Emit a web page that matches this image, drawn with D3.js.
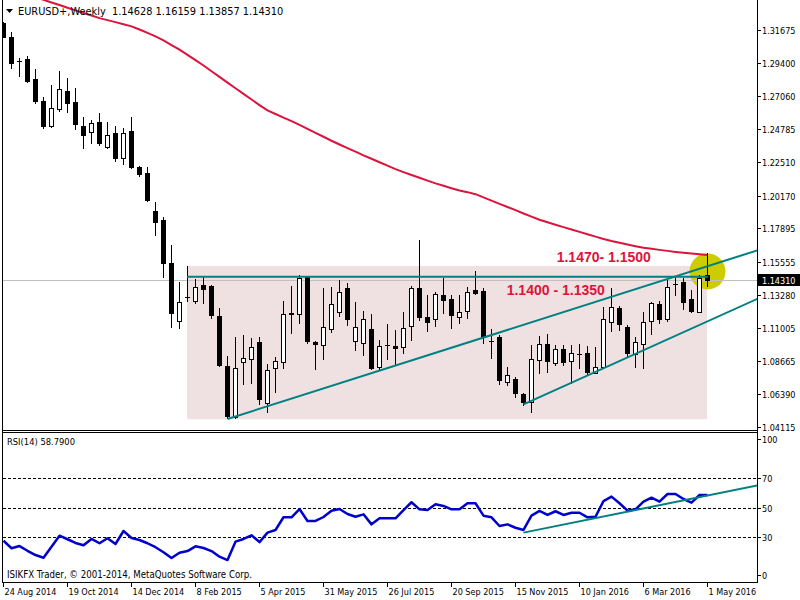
<!DOCTYPE html>
<html><head><meta charset="utf-8">
<script src="https://cdn.jsdelivr.net/npm/d3@7"></script>
<style>
html,body{margin:0;padding:0;background:#fff;}
svg{display:block;}
text{font-family:"DejaVu Sans Condensed","DejaVu Sans",sans-serif;font-size:9px;fill:#000;}
</style></head><body><svg id="c" width="800" height="600"></svg>
<script>
// ---------- DATA ----------
const symbolTitle = "EURUSD+,Weekly";
const lastOHLC = ["1.14628", "1.16159", "1.13857", "1.14310"];
const opens = [1.3214,1.3117,1.2950,1.2964,1.2827,1.2676,1.2501,1.2621,1.2746,1.2667,
1.2501,1.2461,1.2528,1.2357,1.2452,1.2276,1.2466,1.2214,1.2176,1.1910,
1.1848,1.1547,1.1148,1.1310,1.1287,1.1394,1.1389,1.1181,1.0833,1.0481,
1.0859,1.0880,1.0998,1.0578,1.0817,1.0859,1.1192,1.1192,1.1449,1.0998,
1.0977,1.1088,1.1206,1.1373,1.1007,1.0991,1.1088,1.0828,1.0977,1.0972,
1.0963,1.1113,1.1373,1.1172,1.1158,1.1326,1.1297,1.1176,1.1215,1.1361,
1.1354,1.1008,1.1037,1.0724,1.0743,1.0639,1.0585,1.0875,1.0984,1.0852,
1.0949,1.0868,1.0917,1.0921,1.0787,1.0828,1.1137,1.1234,1.1106,1.0917,
1.0984,1.1146,1.1264,1.1158,1.1403,1.1415,1.1297,1.1210,1.14628];
const highs = [1.3222,1.3151,1.2975,1.2987,1.2897,1.2704,1.2785,1.2883,1.2832,1.2763,
1.2565,1.2542,1.2589,1.2528,1.2501,1.2489,1.2565,1.2223,1.2218,1.1975,
1.1870,1.1674,1.1419,1.1530,1.1436,1.1454,1.1394,1.1234,1.0903,1.1037,
1.1049,1.1026,1.1033,1.0847,1.0898,1.1285,1.1389,1.1465,1.1458,1.1007,
1.1373,1.1380,1.1431,1.1408,1.1276,1.1215,1.1192,1.1014,1.1123,1.1083,
1.1210,1.1389,1.1712,1.1326,1.1349,1.1447,1.1326,1.1326,1.1384,1.1495,
1.1377,1.1088,1.1049,1.0828,1.0756,1.0644,1.0979,1.1042,1.1053,1.0979,
1.0979,1.0979,1.0984,1.0972,1.0967,1.1245,1.1373,1.1250,1.1118,1.1037,
1.1210,1.1280,1.1287,1.1431,1.1454,1.1447,1.1361,1.1465,1.16159];
const lows = [1.3118,1.2906,1.2850,1.2806,1.2662,1.2489,1.2496,1.2607,1.2600,1.2478,
1.2350,1.2385,1.2367,1.2350,1.2260,1.2237,1.2211,1.2155,1.1980,1.1743,
1.1454,1.1106,1.1095,1.1285,1.1269,1.1273,1.1169,1.0833,1.0470,1.0474,
1.0708,1.0713,1.0567,1.0516,1.0655,1.0817,1.1060,1.1130,1.0995,1.0814,
1.0884,1.1072,1.1183,1.1118,1.0944,1.0910,1.0815,1.0805,1.0884,1.0840,
1.0921,1.1014,1.1153,1.1078,1.1113,1.1204,1.1099,1.1130,1.1165,1.1331,
1.0991,1.0892,1.0708,1.0701,1.0620,1.0562,1.0516,1.0787,1.0794,1.0840,
1.0840,1.0713,1.0821,1.0771,1.0787,1.0817,1.1078,1.1083,1.0903,1.0824,
1.0817,1.1056,1.1134,1.1148,1.1326,1.1229,1.1210,1.1210,1.13857];
const closes = [1.3121,1.2940,1.2952,1.2815,1.2676,1.2501,1.2624,1.2756,1.2658,1.2517,
1.2440,1.2524,1.2385,1.2436,1.2280,1.2452,1.2218,1.2169,1.1986,1.1832,
1.1551,1.1199,1.1280,1.1313,1.1382,1.1370,1.1190,1.0840,1.0486,1.0817,
1.0887,1.0963,1.0602,1.0805,1.0870,1.1192,1.1198,1.1443,1.1009,1.0984,
1.1106,1.1262,1.1345,1.1160,1.1106,1.1158,1.0821,1.0974,1.0979,1.0960,
1.1099,1.1377,1.1176,1.1141,1.1331,1.1292,1.1188,1.1206,1.1349,1.1342,
1.1035,1.1005,1.0734,1.0769,1.0644,1.0585,1.0880,1.0984,1.0868,1.0949,
1.0863,1.0921,1.0919,1.0794,1.0824,1.1158,1.1245,1.1123,1.0926,1.0998,
1.1141,1.1269,1.1158,1.1384,1.1405,1.1276,1.1217,1.1443,1.14310];
const maValues = [null,null,null,null,1.3395,1.3377,1.3359,1.3341,1.3322,1.3304,
1.3286,1.3268,1.3250,1.3236,1.3222,1.3207,1.3193,1.3171,1.3147,1.3123,
1.3096,1.3063,1.3031,1.2995,1.2958,1.2921,1.2881,1.2842,1.2802,1.2763,
1.2724,1.2685,1.2646,1.2609,1.2584,1.2559,1.2534,1.2509,1.2481,1.2453,
1.2426,1.2398,1.2372,1.2347,1.2322,1.2297,1.2273,1.2249,1.2225,1.2201,
1.2180,1.2160,1.2141,1.2121,1.2102,1.2085,1.2068,1.2052,1.2041,1.2027,
1.2005,1.1982,1.1960,1.1938,1.1916,1.1893,1.1871,1.1849,1.1832,1.1815,
1.1798,1.1782,1.1765,1.1748,1.1732,1.1716,1.1701,1.1689,1.1677,1.1665,
1.1654,1.1647,1.1640,1.1633,1.1626,1.1620,1.1615,1.1609,1.1604];
const rsiValues = [27.7,22.6,24.1,20.9,18.0,16.2,23.7,31.1,28.7,26.2,
24.6,28.9,26.0,29.4,25.5,34.3,29.6,28.2,26.0,23.3,
19.9,16.0,19.6,20.7,23.9,22.8,20.7,16.9,14.6,27.1,
28.9,31.4,26.8,33.2,35.0,43.6,43.6,49.2,41.1,41.1,
43.8,48.1,49.2,45.8,44.0,45.6,38.8,42.9,42.9,42.9,
48.5,53.8,49.0,48.5,52.4,51.3,49.0,49.0,53.1,53.1,
44.7,43.6,37.7,38.8,36.5,35.0,44.7,47.9,45.2,47.7,
45.2,46.7,46.7,43.6,44.0,54.6,57.6,53.1,48.1,49.0,
54.2,56.9,54.2,59.4,59.4,56.0,53.5,58.7,58.79];
const rsiLabel = "RSI(14) 58.7900";
const copyright = "ISIKFX Trader, \u00A9 2001-2014, MetaQuotes Software Corp.";
const priceTicks = [1.31675,1.29400,1.27060,1.24785,1.22510,1.20170,1.17895,1.15555,1.13280,1.11005,1.08665,1.06390,1.04115];
const rsiTicks = [100,70,50,30,0];
const rsiLevels = [70,50,30];
const dateTickIdx = [0,8,16,24,32,40,48,56,64,72,80,88];
const dateTickLabels = ["24 Aug 2014","19 Oct 2014","14 Dec 2014","8 Feb 2015","5 Apr 2015","31 May 2015","26 Jul 2015","20 Sep 2015","15 Nov 2015","10 Jan 2016","6 Mar 2016","1 May 2016"];
const currentPrice = 1.14310;
// drawn objects (bar index, price)
const zoneBars = [23, 88];
const zonePrices = [1.0463, 1.1528];
const resistanceLevel = 1.1454;
const trend1 = [[28, 1.0465],[96, 1.1668]];
const trend2 = [[65, 1.0566],[96, 1.1344]];
const rsiTrend = [[65, 33.2],[96, 67.1]];
const circleAt = [88, 1.1490];
const annotations = [
  {text:"1.1470- 1.1500", bar:69.15, price:1.1558},
  {text:"1.1400 - 1.1350", bar:62.9, price:1.1326}
];

// ---------- CHART ----------
const svg = d3.select("#c");
const nBars = opens.length;
const x = d3.scaleLinear().domain([0, 88]).range([3.5, 707.5]);
const y = d3.scaleLinear().domain([1.04115, 1.31675]).range([426.7, 30]);
const yr = d3.scaleLinear().domain([0, 100]).range([581.6, 434.1]);
const LEFT = 2.5, RIGHT = 757.5, MAIN_BOTTOM = 430.5, RSI_TOP = 432.5, RSI_BOTTOM = 582.5;
const snap = v => Math.round(v) + 0.5;
const teal = "#008080", crimson = "#DC143C";

const defs = svg.append("defs");
defs.append("clipPath").attr("id","clipMain").append("rect").attr("x",3).attr("y",0).attr("width",754).attr("height",430);
defs.append("clipPath").attr("id","clipRsi").append("rect").attr("x",3).attr("y",433).attr("width",754).attr("height",149);

const gm = svg.append("g").attr("clip-path","url(#clipMain)");

// zone rectangle
gm.append("rect")
  .attr("x", x(zoneBars[0]) - 0.5).attr("y", y(zonePrices[1]))
  .attr("width", x(zoneBars[1]) - x(zoneBars[0]))
  .attr("height", y(zonePrices[0]) - y(zonePrices[1]))
  .attr("fill", "#EFE1E1");

// highlight circle
gm.append("circle").attr("cx", x(circleAt[0])).attr("cy", y(circleAt[1])).attr("r", 18).attr("fill", "#CCCC00");

// current price line
gm.append("line").attr("x1",3).attr("x2",757).attr("y1",snap(y(currentPrice))).attr("y2",snap(y(currentPrice)))
  .attr("stroke","#C0C0C0").attr("stroke-width",1).attr("shape-rendering","crispEdges");

// header
svg.append("path").attr("d","M6,9 L13,9 L9.5,13 Z").attr("fill","#000");
svg.append("text").attr("x",18).attr("y",14.5).attr("xml:space","preserve")
  .style("font-size","10.9px")
  .text(symbolTitle + "  " + lastOHLC.join(" "));

// candles
const bars = d3.range(nBars).map(i => ({i, o:opens[i], h:highs[i], l:lows[i], c:closes[i]}));
const cg = gm.append("g").attr("shape-rendering","crispEdges");
cg.selectAll("line.wick").data(bars).join("line").attr("class","wick")
  .attr("x1", d => x(d.i)).attr("x2", d => x(d.i))
  .attr("y1", d => Math.round(y(d.h))).attr("y2", d => Math.round(y(d.l)) + 1)
  .attr("stroke","#000").attr("stroke-width",1);
bars.forEach(d => {
  const yo = Math.round(y(d.o)), yc = Math.round(y(d.c));
  const top = Math.min(yo, yc), bot = Math.max(yo, yc);
  const cx = x(d.i);
  if (bot - top < 1) {
    cg.append("line").attr("x1", cx - 2.5).attr("x2", cx + 2.5).attr("y1", top + 0.5).attr("y2", top + 0.5)
      .attr("stroke","#000").attr("stroke-width",1);
  } else {
    cg.append("rect").attr("x", cx - 2).attr("y", top + 0.5).attr("width", 4).attr("height", bot - top)
      .attr("fill", d.c >= d.o ? "#fff" : "#000").attr("stroke","#000").attr("stroke-width",1);
  }
});

// moving average
gm.append("path").datum(maValues.map((v,i)=>[i,v]))
  .attr("d", d3.line().defined(d => d[1] !== null).x(d => x(d[0])).y(d => y(d[1])))
  .attr("fill","none").attr("stroke",crimson).attr("stroke-width",2);

// resistance line
gm.append("line").attr("x1", x(zoneBars[0]) - 0.5).attr("x2", x(zoneBars[1]) + 0.5)
  .attr("y1", y(resistanceLevel)).attr("y2", y(resistanceLevel))
  .attr("stroke", teal).attr("stroke-width", 2);
// trendlines
[trend1, trend2].forEach(t => {
  gm.append("line").attr("x1", x(t[0][0])).attr("y1", y(t[0][1])).attr("x2", x(t[1][0])).attr("y2", y(t[1][1]))
    .attr("stroke", teal).attr("stroke-width", 2);
});

// annotations
annotations.forEach(a => {
  gm.append("text").attr("x", x(a.bar)).attr("y", y(a.price)).attr("xml:space","preserve")
    .style("font-family","'Liberation Sans', Arial, sans-serif").style("font-size","14px").style("font-weight","bold")
    .style("fill", crimson).text(a.text);
});

// ---------- RSI ----------
const gr = svg.append("g").attr("clip-path","url(#clipRsi)");
gr.selectAll("line.lvl").data(rsiLevels).join("line").attr("class","lvl")
  .attr("x1",3).attr("x2",757).attr("y1", d => snap(yr(d))).attr("y2", d => snap(yr(d)))
  .attr("stroke","#000").attr("stroke-width",1).attr("stroke-dasharray","3,2").attr("shape-rendering","crispEdges");
gr.append("path").datum(rsiValues.map((v,i)=>[i,v]))
  .attr("d", d3.line().x(d => x(d[0])).y(d => yr(d[1])))
  .attr("fill","none").attr("stroke","#0000CD").attr("stroke-width",2.5).attr("stroke-linejoin","round");
gr.append("line").attr("x1", x(rsiTrend[0][0])).attr("y1", yr(rsiTrend[0][1]))
  .attr("x2", x(rsiTrend[1][0])).attr("y2", yr(rsiTrend[1][1]))
  .attr("stroke", teal).attr("stroke-width", 2);
svg.append("text").attr("x",7).attr("y",445).style("font-size","9.3px").text(rsiLabel);
svg.append("text").attr("x",7).attr("y",578).style("font-size","9.6px").text(copyright);

// ---------- FRAMES ----------
const fg = svg.append("g").attr("shape-rendering","crispEdges").attr("stroke","#000").attr("stroke-width",1);
fg.append("line").attr("x1",LEFT).attr("x2",LEFT).attr("y1",0).attr("y2",RSI_BOTTOM);
fg.append("line").attr("x1",RIGHT).attr("x2",RIGHT).attr("y1",0).attr("y2",RSI_BOTTOM);
[MAIN_BOTTOM, RSI_TOP, RSI_BOTTOM].forEach(v => fg.append("line").attr("x1",LEFT).attr("x2",RIGHT).attr("y1",v).attr("y2",v));

// price axis
const pa = svg.append("g");
priceTicks.forEach(p => {
  const yy = snap(y(p));
  pa.append("line").attr("x1",RIGHT).attr("x2",RIGHT+3).attr("y1",yy).attr("y2",yy).attr("stroke","#000").attr("shape-rendering","crispEdges");
  pa.append("text").attr("x",762).attr("y",yy+3.5).text(p.toFixed(5));
});
// current price tag
const cy = snap(y(currentPrice));
pa.append("rect").attr("x",758).attr("y",cy-6.5).attr("width",42).attr("height",12).attr("fill","#000");
pa.append("text").attr("x",762).attr("y",cy+3.5).style("fill","#fff").text(currentPrice.toFixed(5));

// rsi axis
rsiTicks.forEach(v => {
  const yy = snap(Math.min(575, Math.max(439, yr(v))));
  pa.append("line").attr("x1",RIGHT).attr("x2",RIGHT+3).attr("y1",yy).attr("y2",yy).attr("stroke","#000").attr("shape-rendering","crispEdges");
  pa.append("text").attr("x",762).attr("y",yy+3.5).text(String(v));
});

// time axis
dateTickIdx.forEach((b,k) => {
  const xx = Math.floor(x(b)) + 0.5;
  pa.append("line").attr("x1",xx).attr("x2",xx).attr("y1",RSI_BOTTOM).attr("y2",RSI_BOTTOM+4).attr("stroke","#000").attr("shape-rendering","crispEdges");
  pa.append("text").attr("x",xx+1).attr("y",595).text(dateTickLabels[k]);
});
</script></body></html>
